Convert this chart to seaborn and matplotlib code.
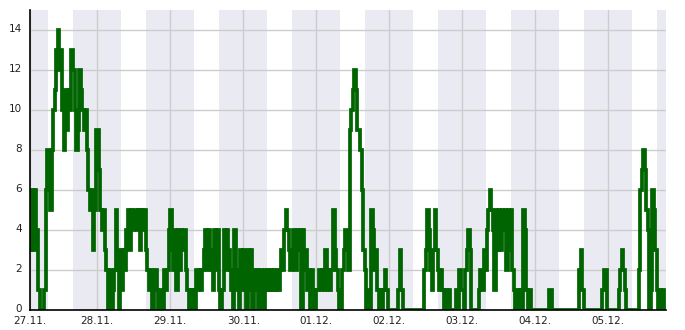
import matplotlib
matplotlib.use("Agg")
import matplotlib.pyplot as plt
import matplotlib.transforms as mtransforms
from matplotlib.ticker import MultipleLocator
import numpy as np
import pandas as pd
import seaborn as sns

# ---- data: values every 30 minutes, starting 27.11. 02:00 ----
day_27 = [3, 6, 3, 6, 4, 1, 0, 0, 0, 1, 6, 8, 8, 5, 8, 10, 11, 13, 14, 12,
          13, 10, 8, 11, 9, 11, 10, 13, 12, 10, 8, 9, 12, 11, 10, 9, 10, 8, 6, 5,
          6, 3, 5, 9]
day_28 = [9, 7, 5, 4, 5, 3, 2, 0, 2, 0, 1, 2, 5, 2, 0, 3, 1, 3, 2, 4,
          5, 3, 5, 4, 5, 5, 4, 5, 3, 5, 4, 5, 3, 2, 1, 2, 0, 1, 2, 1,
          0, 0, 1, 0, 2, 1, 2, 4]
day_29 = [5, 3, 2, 4, 1, 4, 2, 4, 3, 4, 2, 1, 0, 1, 0, 1, 0, 2, 1, 2,
          1, 2, 3, 4, 2, 4, 3, 2, 1, 4, 2, 4, 1, 0, 1, 4, 2, 4, 3, 2,
          1, 0, 4, 1, 2, 0, 3, 1]
day_30 = [3, 1, 0, 3, 1, 3, 0, 2, 1, 2, 0, 2, 1, 0, 2, 1, 2, 1, 2, 1,
          2, 1, 2, 1, 2, 3, 2, 4, 5, 4, 3, 2, 3, 4, 2, 4, 3, 4, 0, 4,
          2, 3, 1, 2, 0, 2, 1, 0]
day_01 = [1, 1, 2, 1, 2, 1, 3, 1, 2, 1, 2, 5, 3, 2, 1, 0, 0, 2, 3, 4,
          3, 2, 9, 10, 11, 12, 11, 9, 9, 8, 6, 3, 2, 0, 1, 0, 5, 4, 2, 3,
          1, 0, 1, 0, 1, 2, 1, 0]
day_02 = [0, 0, 0, 0, 0, 0, 1, 3, 1, 0, 0, 0, 0, 0, 0, 0, 0, 0, 0, 0,
          0, 0, 0, 2, 3, 5, 4, 2, 1, 3, 5, 3, 2, 1, 2, 1, 0, 1, 0, 1,
          0, 0, 0, 0, 1, 0, 2, 1]
day_03 = [1, 0, 2, 3, 4, 3, 0, 0, 0, 0, 0, 1, 2, 1, 3, 2, 4, 5, 6, 5,
          4, 1, 5, 3, 5, 3, 5, 4, 5, 2, 5, 3, 5, 2, 1, 0, 1, 0, 1, 0,
          5, 4, 1, 0, 1, 0, 0, 0]
day_04 = [0, 0, 0, 0, 0, 0, 0, 0, 0, 1, 1, 0, 0, 0, 0, 0, 0, 0, 0, 0,
          0, 0, 0, 0, 0, 0, 0, 0, 0, 2, 3, 1, 0, 0, 0, 0, 0, 0, 0, 0,
          0, 0, 0, 0, 1, 2, 2, 0]
day_05 = [0, 0, 0, 0, 0, 0, 0, 1, 2, 3, 2, 1, 0, 0, 0, 0, 0, 0, 0, 0,
          2, 6, 7, 8, 7, 5, 4, 0, 1, 6, 5, 3, 1, 0, 1, 0, 1, 0]

values = day_27 + day_28 + day_29 + day_30 + day_01 + day_02 + day_03 + day_04 + day_05
start = pd.Timestamp("2014-11-27 02:00")
times = pd.date_range(start, periods=len(values), freq="30min")
df = pd.DataFrame({"time": times, "value": values})

x_start = pd.Timestamp("2014-11-27 01:52")
x_end = pd.Timestamp("2014-12-05 19:00")
tick_labels = ["27.11.", "28.11.", "29.11.", "30.11.", "01.12.",
               "02.12.", "03.12.", "04.12.", "05.12."]

# ---- figure ----
sns.set_style("white")
plt.rcParams["font.family"] = ["DejaVu Sans"]

fig = plt.figure(figsize=(6.85, 3.3), dpi=100)
ax = fig.add_axes([30 / 685, 20 / 330, 636 / 685, 300 / 330])

# night bands (sunset ~16:00 -> sunrise ~07:45)
for d in pd.date_range("2014-11-26", "2014-12-05", freq="D"):
    ax.axvspan(d + pd.Timedelta(hours=16), d + pd.Timedelta(hours=31, minutes=45),
               color="#eaeaf2", lw=0, zorder=0)

sns.lineplot(data=df, x="time", y="value", ax=ax, color="#006400",
             linewidth=2.7, drawstyle="steps-post", zorder=3,
             solid_joinstyle="miter", solid_capstyle="butt")

ax.set_xlim(x_start, x_end)
ax.set_ylim(0, 15)

midnights = list(pd.date_range("2014-11-28", "2014-12-05", freq="D"))
ticks = [x_start] + midnights
ax.set_xticks(ticks)
ax.set_xticklabels(tick_labels)
ax.yaxis.set_major_locator(MultipleLocator(2))
ax.yaxis.set_minor_locator(MultipleLocator(1))

ax.grid(True, which="major", color="#cccccc", linewidth=1.0, zorder=1)
ax.set_axisbelow(True)

ax.tick_params(axis="both", which="both", direction="in", color="black",
               labelsize=7.5, labelcolor="#222222", width=1)
ax.tick_params(axis="y", which="major", length=3.5, pad=6)
ax.tick_params(axis="y", which="minor", length=3.5)
ax.tick_params(axis="x", which="major", length=4, pad=4)

# nudge y labels up a little so "0" clears the first date label
shift = mtransforms.ScaledTranslation(0, 1.5 / 100, fig.dpi_scale_trans)
for lbl in ax.get_yticklabels():
    lbl.set_transform(lbl.get_transform() + shift)

for side in ["top", "right"]:
    ax.spines[side].set_visible(False)
for side in ["left", "bottom"]:
    ax.spines[side].set_color("black")
    ax.spines[side].set_linewidth(1.2)
    ax.spines[side].set_zorder(5)

ax.set_xlabel("")
ax.set_ylabel("")
ax.set_facecolor("white")

fig.savefig("out.png", dpi=100)
